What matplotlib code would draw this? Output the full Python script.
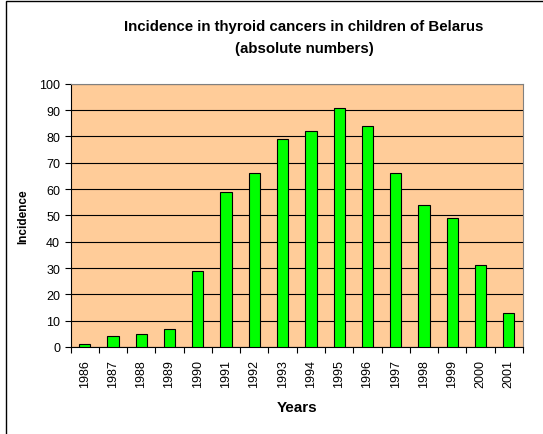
import numpy as np
import matplotlib.pyplot as plt
from matplotlib.patches import Rectangle

years = ['1986', '1987', '1988', '1989', '1990', '1991', '1992', '1993',
         '1994', '1995', '1996', '1997', '1998', '1999', '2000', '2001']
incidence = [1, 4, 5, 7, 29, 59, 66, 79, 82, 91, 84, 66, 54, 49, 31, 13]

plt.rcParams['font.family'] = ['Liberation Sans', 'DejaVu Sans']

fig = plt.figure(figsize=(5.43, 4.35), dpi=100)
ax = fig.add_axes([0.130, 0.200, 0.833, 0.605])

x = np.arange(len(years))
ax.set_facecolor('#FFCC99')
ax.bar(x, incidence, width=0.4, color='#00FF00', edgecolor='black',
       linewidth=0.8, zorder=3)

ax.set_xlim(-0.5, len(years) - 0.5)
ax.set_ylim(0, 100)
ax.set_yticks(range(0, 101, 10))
ax.yaxis.grid(True, color='black', linewidth=0.8, zorder=1)
ax.set_axisbelow(True)

ax.set_xticks(x)
ax.set_xticklabels(years, rotation=90, fontsize=9)
ax.set_xticks(np.arange(-0.5, len(years), 1), minor=True)
ax.tick_params(axis='x', which='major', length=0, pad=9)
ax.tick_params(axis='x', which='minor', length=4, direction='out', width=0.8)
ax.tick_params(axis='y', length=4, direction='out', width=0.8, labelsize=9)

for side in ['top', 'right']:
    ax.spines[side].set_color('#808080')
    ax.spines[side].set_linewidth(0.8)
ax.spines['left'].set_linewidth(0.8)
ax.spines['bottom'].set_linewidth(0.8)

ax.set_ylabel('Incidence', fontsize=8.5, fontweight='bold', labelpad=7)
ax.set_xlabel('Years', fontsize=11, fontweight='bold', labelpad=9)

fig.text(0.56, 0.912, 'Incidence in thyroid cancers in children of Belarus\n(absolute numbers)',
         ha='center', va='center', fontsize=10.8, fontweight='bold', linespacing=1.7)

# chart frame
fig.patches.append(Rectangle((6 / 543, -0.05), 1.2, 1 - 2 / 435 + 0.05,
                             transform=fig.transFigure, fill=False,
                             edgecolor='black', linewidth=1))

fig.savefig('out.png', dpi=100)
